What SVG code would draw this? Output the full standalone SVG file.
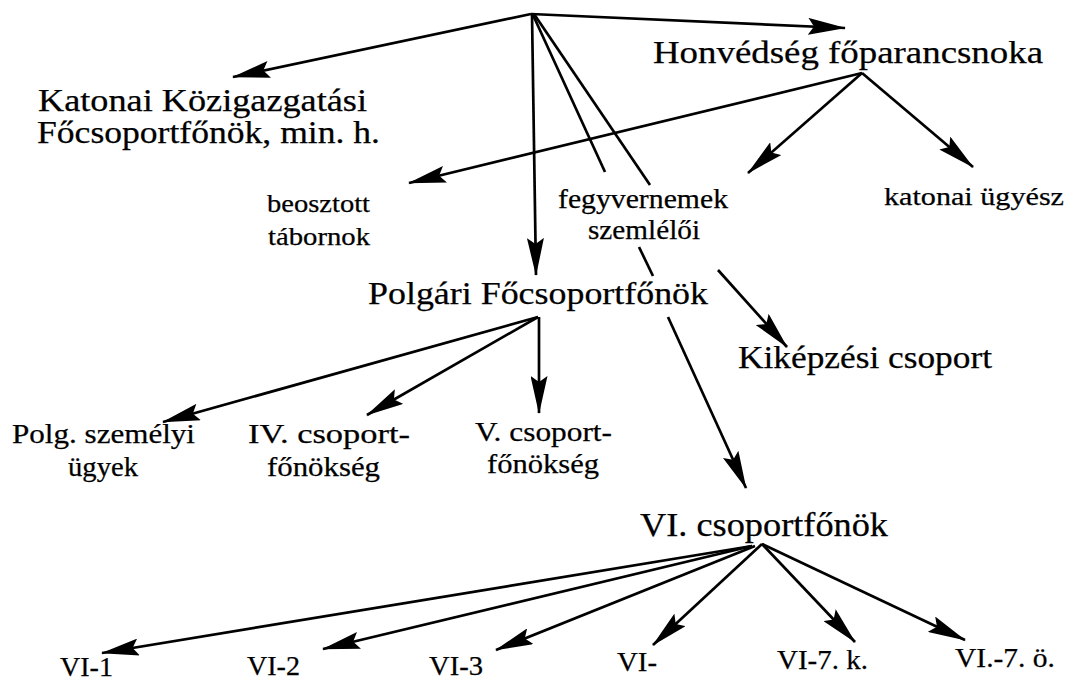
<svg xmlns="http://www.w3.org/2000/svg" width="1074" height="681" viewBox="0 0 1074 681">
<style>
text{font-family:"Liberation Serif","Times New Roman",serif;fill:#000;stroke:#000;stroke-width:0.25}
.c{stroke:#000;stroke-width:2.7;fill:none}
.a{marker-end:url(#ah)}
</style>
<defs>
<marker id="ah" viewBox="0 0 38 17" refX="37" refY="8.5" markerWidth="38" markerHeight="17" markerUnits="userSpaceOnUse" orient="auto">
<path d="M0,0 L38,8.5 L0,17 L6,8.5 z" fill="#000"/>
</marker>
</defs>
<rect width="1074" height="681" fill="#fff"/>
<g id="connectors">
<line class="c a" x1="531" y1="14" x2="233" y2="77"/>
<line class="c a" x1="531" y1="14" x2="845" y2="28"/>
<line class="c a" x1="532" y1="14" x2="536" y2="275"/>
<line class="c" x1="533" y1="15" x2="605" y2="172"/>
<line class="c" x1="534" y1="14" x2="650" y2="185"/>
<line class="c a" x1="862" y1="73" x2="409" y2="183"/>
<line class="c a" x1="862" y1="73" x2="748" y2="173"/>
<line class="c a" x1="862" y1="73" x2="973" y2="167"/>
<line class="c" x1="639" y1="247" x2="653" y2="276"/>
<line class="c a" x1="668" y1="317" x2="746" y2="488"/>
<line class="c a" x1="718" y1="270" x2="787" y2="347"/>
<line class="c a" x1="538" y1="317" x2="163" y2="422"/>
<line class="c a" x1="538" y1="317" x2="367" y2="415"/>
<line class="c a" x1="539" y1="317" x2="539" y2="413"/>
<line class="c a" x1="752" y1="546" x2="102" y2="653"/>
<line class="c a" x1="752" y1="546" x2="323" y2="649"/>
<line class="c a" x1="755" y1="546" x2="496" y2="650"/>
<line class="c a" x1="762" y1="544" x2="653" y2="645"/>
<line class="c a" x1="762" y1="544" x2="855" y2="642"/>
<line class="c a" x1="762" y1="544" x2="965" y2="640"/>
</g>
<g id="katonai-kozigazgatasi">
<text x="38" y="111" font-size="31" textLength="329" lengthAdjust="spacingAndGlyphs">Katonai Közigazgatási</text>
<text x="37" y="143" font-size="31" textLength="343" lengthAdjust="spacingAndGlyphs">Főcsoportfőnök, min. h.</text>
</g>
<g id="honvedseg">
<text x="653" y="63" font-size="32" textLength="390" lengthAdjust="spacingAndGlyphs">Honvédség főparancsnoka</text>
</g>
<g id="beosztott">
<text x="267" y="212" font-size="25" textLength="103" lengthAdjust="spacingAndGlyphs">beosztott</text>
<text x="268" y="245" font-size="25" textLength="102" lengthAdjust="spacingAndGlyphs">tábornok</text>
</g>
<g id="fegyvernemek">
<text x="558" y="208" font-size="27" textLength="170" lengthAdjust="spacingAndGlyphs">fegyvernemek</text>
<text x="588" y="239" font-size="27" textLength="112" lengthAdjust="spacingAndGlyphs">szemlélői</text>
</g>
<g id="katonai-ugyesz">
<text x="884" y="205" font-size="26" textLength="180" lengthAdjust="spacingAndGlyphs">katonai ügyész</text>
</g>
<g id="polgari">
<text x="368" y="304" font-size="32" textLength="340" lengthAdjust="spacingAndGlyphs">Polgári Főcsoportfőnök</text>
</g>
<g id="kikepzesi">
<text x="738" y="368" font-size="31" textLength="254" lengthAdjust="spacingAndGlyphs">Kiképzési csoport</text>
</g>
<g id="polg-szemelyi">
<text x="12" y="443" font-size="28" textLength="183" lengthAdjust="spacingAndGlyphs">Polg. személyi</text>
<text x="68" y="476" font-size="28" textLength="70" lengthAdjust="spacingAndGlyphs">ügyek</text>
</g>
<g id="iv-csoport">
<text x="248" y="443" font-size="28" textLength="162" lengthAdjust="spacingAndGlyphs">IV. csoport-</text>
<text x="267" y="476" font-size="28" textLength="113" lengthAdjust="spacingAndGlyphs">főnökség</text>
</g>
<g id="v-csoport">
<text x="475" y="441" font-size="28" textLength="137" lengthAdjust="spacingAndGlyphs">V. csoport-</text>
<text x="487" y="473" font-size="28" textLength="112" lengthAdjust="spacingAndGlyphs">főnökség</text>
</g>
<g id="vi-csoportfonok">
<text x="640" y="536" font-size="33" textLength="248" lengthAdjust="spacingAndGlyphs">VI. csoportfőnök</text>
</g>
<g id="vi-1"><text x="60" y="676" font-size="27" textLength="53" lengthAdjust="spacingAndGlyphs">VI-1</text></g>
<g id="vi-2"><text x="247" y="675" font-size="27" textLength="53" lengthAdjust="spacingAndGlyphs">VI-2</text></g>
<g id="vi-3"><text x="429" y="675" font-size="27" textLength="54" lengthAdjust="spacingAndGlyphs">VI-3</text></g>
<g id="vi-dash"><text x="617" y="671" font-size="28" textLength="40" lengthAdjust="spacingAndGlyphs">VI-</text></g>
<g id="vi-7-k"><text x="777" y="669" font-size="28" textLength="91" lengthAdjust="spacingAndGlyphs">VI-7. k.</text></g>
<g id="vi-7-o"><text x="955" y="667" font-size="28" textLength="100" lengthAdjust="spacingAndGlyphs">VI.-7. ö.</text></g>
</svg>
